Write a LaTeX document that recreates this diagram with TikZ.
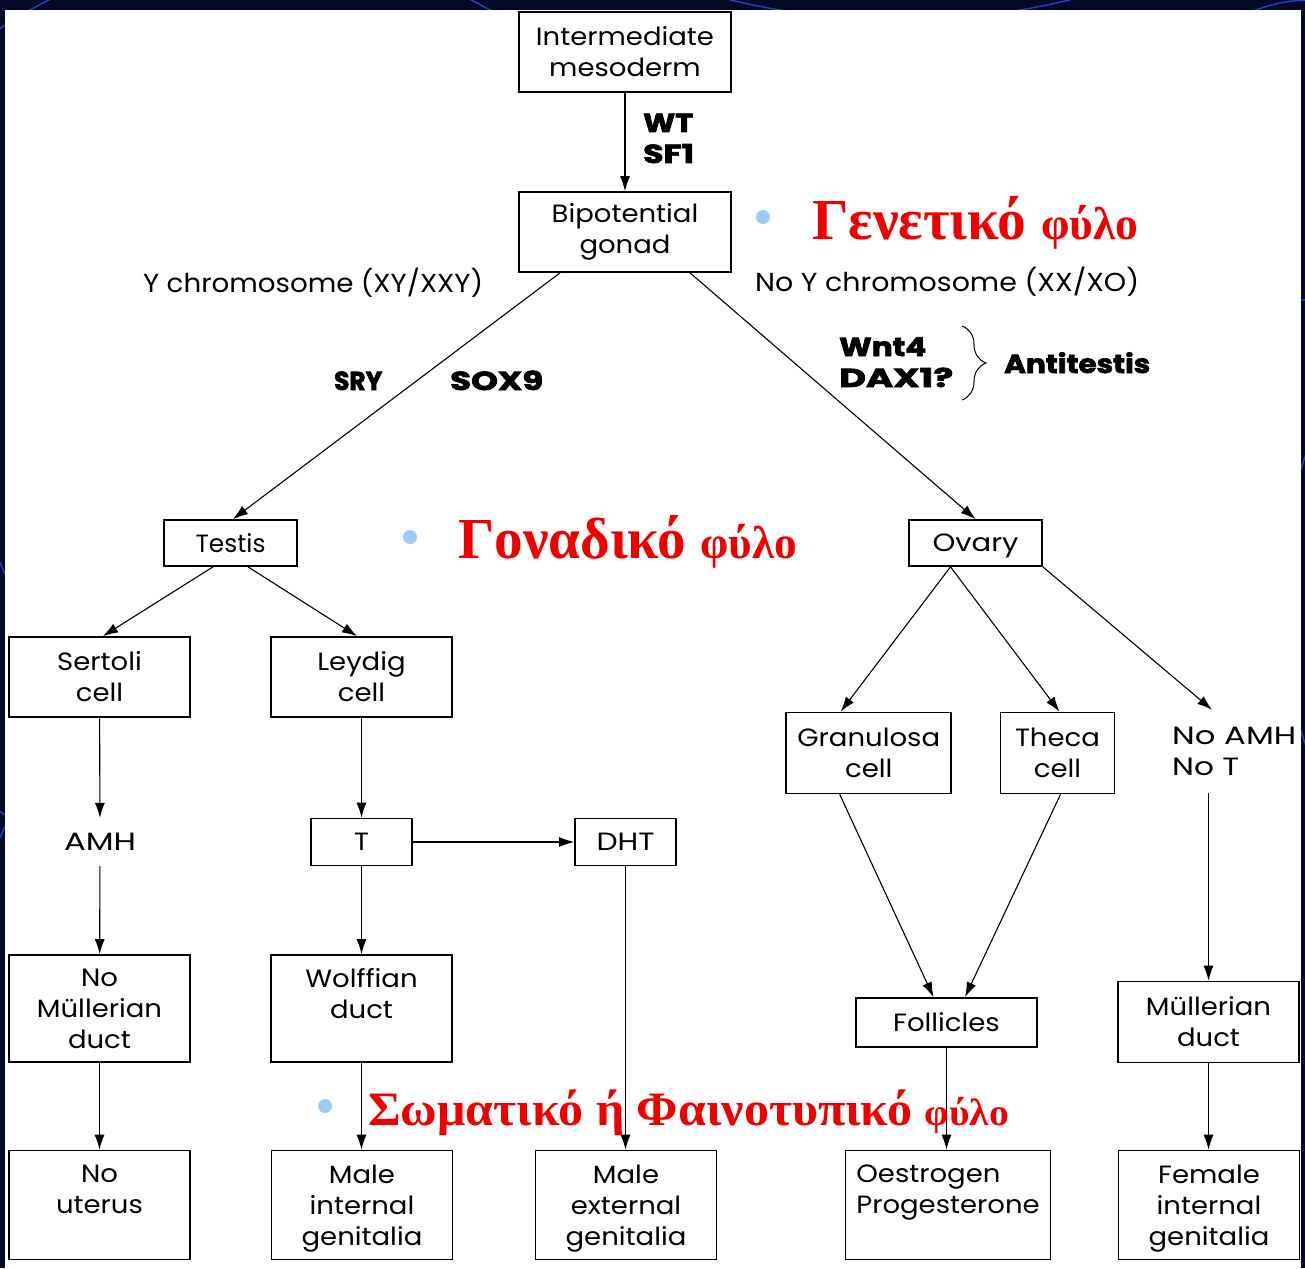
\documentclass[tikz,border=0pt]{standalone}
\usepackage{fontspec}
\setmainfont{Poppins}[FakeStretch=1.1]
\newfontfamily\heavyfont{Poppins}[BoldFeatures={FakeBold=2.5}]
\newfontfamily\greekserif{Liberation Serif}
\usetikzlibrary{arrows.meta,decorations.pathreplacing}

\definecolor{slidebg}{HTML}{020826}
\definecolor{slidearc}{HTML}{1848C8}
\definecolor{headred}{HTML}{EE0000}
\definecolor{bulletblue}{HTML}{9CCBFA}

% set a one-line label to a given width, keeping its height
\newcommand{\fitw}[2]{\resizebox{#1}{\height}{#2}}

\tikzset{
  txt/.style={font=\fontsize{25}{31}\selectfont, inner sep=0pt, align=center},
  box/.style={txt, draw, line width=1.7pt},
  heavy/.style={font=\heavyfont\fontsize{26}{31}\selectfont\bfseries, inner sep=0pt, align=left},
  conn/.style={line width=1.1pt},
  arr/.style={conn, -{Latex[length=15pt,width=10pt]}},
  redhead/.style={font=\greekserif\bfseries\fontsize{58}{60}\selectfont, text=headred, inner sep=0pt},
  bullet/.style={circle, fill=bulletblue, minimum size=14pt, inner sep=0pt},
}

\begin{document}
\begin{tikzpicture}[x=1pt,y=-1pt]
% slide background with its arcs
\fill[slidebg] (0,0) rectangle (1305,1268);
\begin{scope}
  \clip (0,0) rectangle (1305,1268);
  \draw[slidearc, line width=1.4pt] (1310,150) circle (150);
  \draw[slidearc, line width=1.4pt] (260,420) circle (470);
  \draw[slidearc, line width=1.4pt] (900,-700) circle (720);
  \draw[slidearc, line width=1.4pt] (-300,700) circle (330);
  \draw[slidearc, line width=1.4pt] (1700,600) circle (420);
\end{scope}
\fill[white] (5,10) rectangle (1300.5,1268);

% boxes
\node[box, minimum width=212pt, minimum height=80pt] (im) at (625,52) {Intermediate\\mesoderm};
\node[box, minimum width=212pt, minimum height=80pt] (bip) at (625,232) {Bipotential\\gonad};
\node[box, minimum width=133pt, minimum height=46pt] (testis) at (230.5,543) {\fitw{70pt}{Testis}};
\node[box, minimum width=133pt, minimum height=46pt, text depth=0pt] (ovary) at (975.5,543) {\fitw{86pt}{Ovary}};
\node[box, minimum width=181pt, minimum height=80pt] (sertoli) at (99.5,677) {Sertoli\\cell};
\node[box, minimum width=181pt, minimum height=80pt] (leydig) at (361.5,677) {Leydig\\cell};
\node[box, minimum width=101pt, minimum height=47pt] (tbox) at (361.5,842) {T};
\node[box, minimum width=101pt, minimum height=47pt] (dht) at (625.5,842) {\fitw{58pt}{DHT}};
\node[txt, minimum height=48pt] (amh) at (100,842) {\fitw{72pt}{AMH}};
\node[box, minimum width=181pt, minimum height=107pt] (nomull) at (99.5,1008.5) {No\\Müllerian\\duct};
\node[box, minimum width=181pt, minimum height=107pt] (wolff) at (361.5,1008.5) {Wolffian\\duct\\\mbox{}};
\node[box, minimum width=181pt, minimum height=109pt] (nout) at (99.5,1205) {No\\uterus\\\mbox{}};
\node[box, minimum width=181pt, minimum height=109pt, text depth=0pt] (mint) at (362,1205) {Male\\internal\\genitalia};
\node[box, minimum width=181pt, minimum height=109pt, text depth=0pt] (mext) at (626,1205) {Male\\external\\genitalia};
\node[box, minimum width=205pt, minimum height=109pt, align=left] (oest) at (948,1205) {Oestrogen\\Progesterone\\\mbox{}};
\node[box, minimum width=181pt, minimum height=109pt, text depth=0pt] (fint) at (1209,1205) {Female\\internal\\genitalia};
\node[box, minimum width=165pt, minimum height=81pt] (gran) at (868.7,753) {Granulosa\\cell};
\node[box, minimum width=114pt, minimum height=81pt] (theca) at (1057.5,753) {Theca\\cell};
\node[txt, align=left, minimum height=83pt, anchor=west] (noamh) at (1172,751.5) {\fitw{124pt}{No AMH}\\\fitw{67pt}{No T}};
\node[box, minimum width=181pt, minimum height=49pt] (foll) at (946.5,1022.5) {Follicles};
\node[box, minimum width=181pt, minimum height=81pt] (mull) at (1208.5,1022) {Müllerian\\duct};

% labels
\node[heavy, anchor=base west] (wt) at (643,132) {\fitw{50pt}{WT}};
\node[heavy, anchor=base west] (sf) at (643,163) {\fitw{51pt}{SF1}};
\node[txt, font=\fontsize{26}{31}\selectfont, anchor=base west] (ychr) at (143,292) {\fitw{340pt}{Y chromosome (XY/XXY)}};
\node[txt, font=\fontsize{26}{31}\selectfont, anchor=base west] (noy) at (755,291) {\fitw{384pt}{No Y chromosome (XX/XO)}};
\node[heavy, anchor=base west] (sry) at (334,390) {\fitw{48pt}{SRY}};
\node[heavy, anchor=base west] (sox) at (450,390) {\fitw{93pt}{SOX9}};
\node[heavy, anchor=base west] (wnt) at (839,356) {\fitw{87pt}{Wnt4}};
\node[heavy, anchor=base west] (dax) at (839,387) {\fitw{114pt}{DAX1?}};
\node[heavy, anchor=base west] (anti) at (1004,373) {\fitw{146pt}{Antitestis}};
\draw[decorate, decoration={brace, amplitude=24pt}, line width=1pt] (962,326) -- (962,400);

% connectors
\draw[arr] (im) -- (bip);
\draw[arr] ([xshift=-65pt]bip.south) -- ([xshift=2.5pt]testis.north);
\draw[arr] ([xshift=65pt]bip.south) -- (ovary.north);
\draw[arr] ([xshift=-17.5pt]testis.south) -- ([xshift=3.5pt]sertoli.north);
\draw[arr] ([xshift=17.5pt]testis.south) -- ([xshift=-4.5pt]leydig.north);
\draw[arr] (sertoli) -- (amh);
\draw[arr] (amh) -- (nomull);
\draw[arr] (nomull) -- (nout);
\draw[arr] (leydig) -- (tbox);
\draw[arr] (tbox) -- (dht);
\draw[arr] (tbox) -- (wolff);
\draw[arr] (wolff.south) -- (wolff.south |- mint.north);
\draw[arr] (dht.south) -- (dht.south |- mext.north);
\draw[arr] ([xshift=-25pt]ovary.south) -- ([xshift=-28pt]gran.north);
\draw[arr] ([xshift=-25pt]ovary.south) -- ([xshift=2pt]theca.north);
\draw[arr] (ovary.south east) -- ([xshift=40pt]noamh.north west);
\draw[arr] ([xshift=-29pt]gran.south) -- ([xshift=-13pt]foll.north);
\draw[arr] ([xshift=3pt]theca.south) -- ([xshift=18.5pt]foll.north);
\draw[arr] (noamh.south west -| mull.north) -- (mull.north);
\draw[arr] (foll.south) -- (foll.south |- oest.north);
\draw[arr] (mull.south) -- (mull.south |- fint.north);

% sex-level headings
\node[bullet] (b1) at (763,217) {};
\node[redhead, anchor=base west] (h1) at (812,239) {\fitw{326pt}{Γενετικό {\fontsize{46}{48}\selectfont φύλο}}};
\node[bullet] (b2) at (410,537) {};
\node[redhead, anchor=base west] (h2) at (458,558) {\fitw{339pt}{Γοναδικό {\fontsize{46}{48}\selectfont φύλο}}};
\node[bullet] (b3) at (325,1106) {};
\node[redhead, font=\greekserif\bfseries\fontsize{48}{52}\selectfont, anchor=base west] (h3) at (368,1125) {\fitw{641pt}{Σωματικό ή Φαινοτυπικό {\fontsize{38}{40}\selectfont φύλο}}};
\end{tikzpicture}
\end{document}
